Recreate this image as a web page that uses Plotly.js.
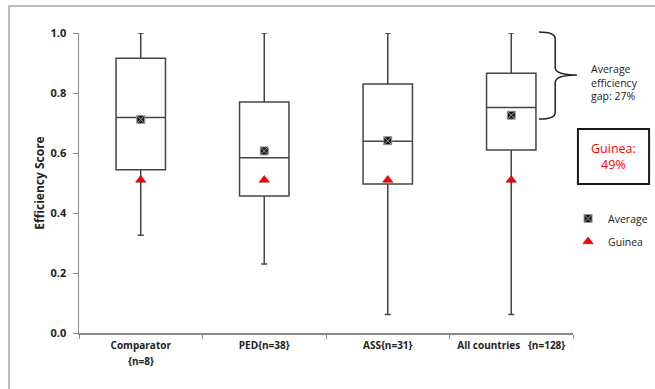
<!DOCTYPE html>
<html>
<head>
<meta charset="utf-8">
<script src="https://cdn.plot.ly/plotly-3.0.1.min.js"></script>
<style>html,body{margin:0;padding:0;background:#fff;}#chart{width:655px;height:389px;}</style>
</head>
<body>
<div id="chart"></div>
<script>
const categories = ["Comparator", "PED{n=38}", "ASS{n=31}", "All countries   {n=128}"];
const subLabels = ["{n=8}", "", "", ""];
const whiskerLow = [0.326, 0.230, 0.062, 0.062];
const q1Values = [0.544, 0.457, 0.497, 0.610];
const medianValues = [0.718, 0.584, 0.639, 0.752];
const q3Values = [0.916, 0.770, 0.830, 0.866];
const whiskerHigh = [1.0, 1.0, 1.0, 1.0];
const averageValues = [0.712, 0.607, 0.641, 0.726];
const guineaValues = [0.51, 0.51, 0.51, 0.51];
const yTicks = [0, 0.2, 0.4, 0.6, 0.8, 1.0];

const boxTrace = {
  type: "box",
  x: categories,
  q1: q1Values,
  median: medianValues,
  q3: q3Values,
  lowerfence: whiskerLow,
  upperfence: whiskerHigh,
  width: 0.4,
  whiskerwidth: 0.12,
  fillcolor: "rgba(255,255,255,0)",
  line: {color: "#454545", width: 1.5},
  showlegend: false,
  hoverinfo: "skip"
};
const avgTrace = {
  type: "scatter", mode: "markers", name: "Average",
  x: categories, y: averageValues,
  legendgroup: "a",
  marker: {symbol: "square-x", size: 8, color: "#1a1a1a", line: {color: "#9a9a9a", width: 1}}
};
const guineaTrace = {
  type: "scatter", mode: "markers", name: "Guinea",
  x: categories, y: guineaValues,
  legendgroup: "g",
  marker: {symbol: "triangle-up", size: 9, color: "#ff0000", line: {color: "#7a0000", width: 0.5}}
};

const subAnnotations = categories.map((c, i) => ({
  xref: "x", yref: "paper", x: c, y: -0.062, yanchor: "top", showarrow: false,
  text: subLabels[i],
  font: {family: "Open Sans, sans-serif", size: 10, color: "#222", weight: "bold"}
})).filter(a => a.text);

const layout = {
  width: 655, height: 389,
  margin: {l: 79, r: 82, t: 33, b: 56, autoexpand: false},
  paper_bgcolor: "#ffffff", plot_bgcolor: "#ffffff",
  font: {family: "Open Sans, sans-serif", color: "#222"},
  xaxis: {
    type: "category",
    showgrid: false, zeroline: false,
    showline: true, linecolor: "#8a8a8a", linewidth: 1.5,
    ticks: "outside", tickson: "boundaries", ticklen: 4, tickcolor: "#8a8a8a",
    ticklabelstandoff: 2,
    tickfont: {family: "Open Sans, sans-serif", size: 10, color: "#222", weight: "bold"},
    range: [-0.5, 3.5]
  },
  yaxis: {
    range: [0, 1], tickvals: yTicks, ticktext: yTicks.map(v => v.toFixed(1)),
    showgrid: false, zeroline: false,
    showline: true, linecolor: "#8a8a8a", linewidth: 1.5,
    ticks: "outside", ticklen: 5, tickcolor: "#8a8a8a",
    ticklabelstandoff: 4,
    tickfont: {family: "Open Sans, sans-serif", size: 11, color: "#222", weight: "bold"},
    title: {text: "Efficiency Score", standoff: 3, font: {family: "Open Sans, sans-serif", size: 12, color: "#222", weight: "bold"}}
  },
  showlegend: true,
  legend: {
    x: 0.99, xanchor: "left", y: 0.43, yanchor: "top",
    traceorder: "grouped", tracegroupgap: 4,
    font: {family: "Open Sans, sans-serif", size: 10.5, color: "#222"},
    bgcolor: "rgba(0,0,0,0)", itemwidth: 30
  },
  shapes: [
    {type: "rect", xref: "paper", yref: "paper", x0: -0.1417, x1: 1.2, y0: -0.25, y1: 1.09,
     line: {color: "#a6a6a6", width: 1.5}, fillcolor: "rgba(0,0,0,0)", layer: "below"},
    {type: "path", xref: "paper", yref: "paper",
     path: "M 0.931,1.003 Q 0.964,1.003 0.964,0.98 L 0.964,0.885 Q 0.964,0.86 1.008,0.86 Q 0.964,0.86 0.964,0.835 L 0.964,0.735 Q 0.964,0.713 0.931,0.713",
     line: {color: "#222", width: 1.5}},
    {type: "rect", xref: "paper", yref: "paper", x0: 1.010, x1: 1.154, y0: 0.497, y1: 0.68,
     line: {color: "#1a1a1a", width: 2}, fillcolor: "#ffffff"}
  ],
  annotations: [
    {xref: "paper", yref: "paper", x: 1.032, y: 0.91, xanchor: "left", yanchor: "top", align: "left",
     showarrow: false, text: "Average<br>efficiency<br>gap: 27%",
     font: {family: "Open Sans, sans-serif", size: 10.5, color: "#222"}},
    {xref: "paper", yref: "paper", x: 1.082, y: 0.589, xanchor: "center", yanchor: "middle", align: "center",
     showarrow: false, text: "Guinea:<br>49%",
     font: {family: "Open Sans, sans-serif", size: 12.5, color: "#ff0000"}}
  ].concat(subAnnotations)
};

Plotly.newPlot("chart", [boxTrace, avgTrace, guineaTrace], layout, {displayModeBar: false, staticPlot: true});
</script>
</body>
</html>
